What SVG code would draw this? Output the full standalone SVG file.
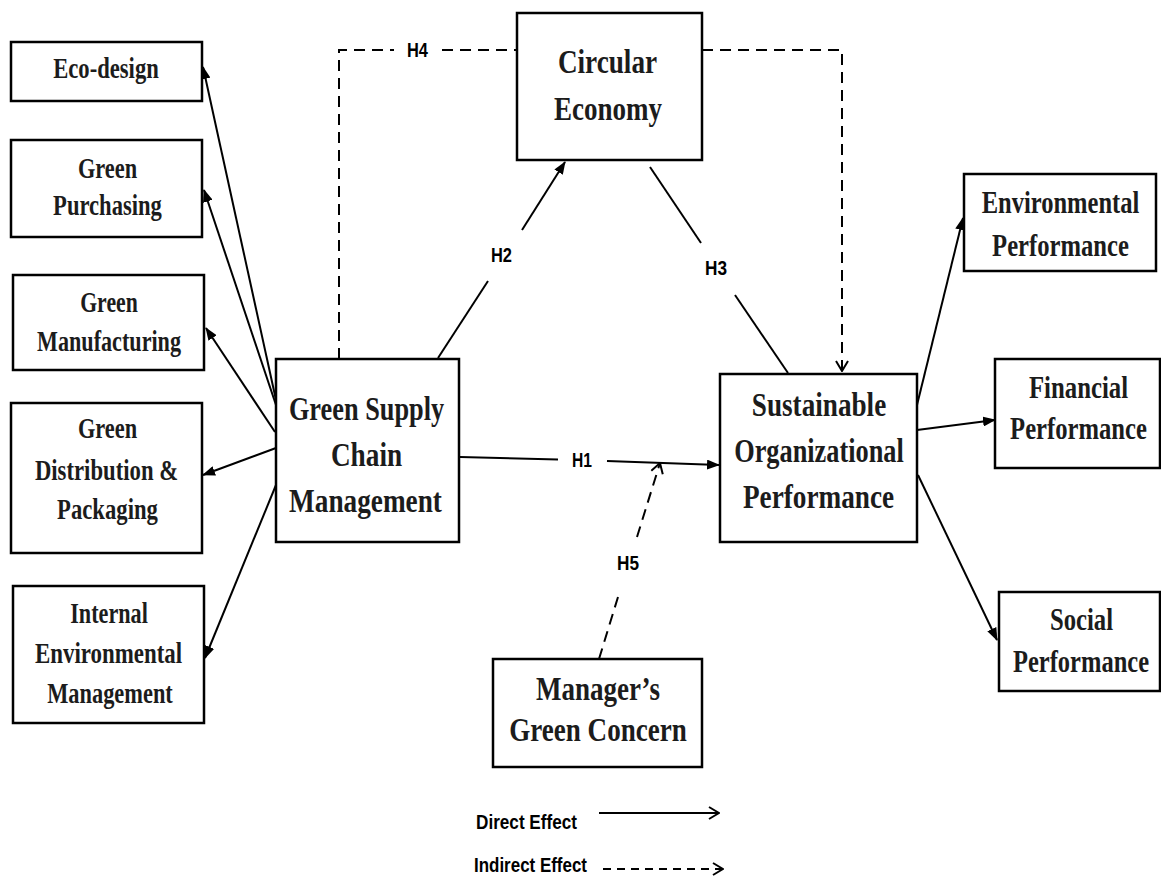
<svg xmlns="http://www.w3.org/2000/svg" width="1161" height="877" viewBox="0 0 1161 877">
<style>
.box{fill:#fff;stroke:#000;stroke-width:2.5}
.t{font-family:"Liberation Serif","Times New Roman",serif;font-weight:bold;fill:#1c1c1c;text-anchor:middle}
.s{font-size:30px}
.m{font-size:31px}
.b{font-size:34px}
.g{font-size:33px}
.lbl{font-family:"Liberation Sans",Arial,sans-serif;font-weight:bold;font-size:21px;fill:#000}
.c{fill:none;stroke:#000;stroke-width:2}
.d{fill:none;stroke:#000;stroke-width:2;stroke-dasharray:11,7}
.dl{fill:none;stroke:#000;stroke-width:2;stroke-dasharray:8,6}
</style>
<defs>
<marker id="ah" viewBox="0 0 13 10" refX="12" refY="5" markerWidth="13" markerHeight="10" markerUnits="userSpaceOnUse" orient="auto"><path d="M0,0 L13,5 L0,10 z" fill="#000"/></marker>
<marker id="oh" viewBox="0 0 12 14" refX="11" refY="7" markerWidth="12" markerHeight="14" markerUnits="userSpaceOnUse" orient="auto"><path d="M1,1 L11,7 L1,13" fill="none" stroke="#000" stroke-width="2" stroke-dasharray="none"/></marker>
</defs>
<rect width="1161" height="877" fill="#fff"/>

<g id="connectors">
<path class="d" d="M339,359 L339,50 L394,50"/>
<path class="d" d="M442,50 L517,50"/>
<path class="d" d="M702,50 L842,50 L842,371" marker-end="url(#oh)"/>
<path class="c" d="M438,358 L488,281"/>
<path class="c" d="M522,230 L565,162" marker-end="url(#ah)"/>
<path class="c" d="M650,167 L701,243"/>
<path class="c" d="M735,295 L788,373"/>
<path class="c" d="M460,457 L558,459.5"/>
<path class="c" d="M607,461 L719,465" marker-end="url(#ah)"/>
<path class="d" d="M599,659 L618,597"/>
<path class="d" d="M637,537 L660,463" marker-end="url(#oh)"/>
<path class="c" d="M276,400 L203,67" marker-end="url(#ah)"/>
<path class="c" d="M276,405 L204,190" marker-end="url(#ah)"/>
<path class="c" d="M275,432 L206,328" marker-end="url(#ah)"/>
<path class="c" d="M276,448 L203,475" marker-end="url(#ah)"/>
<path class="c" d="M276,485 L205,658" marker-end="url(#ah)"/>
<path class="c" d="M917,405 L963,218" marker-end="url(#ah)"/>
<path class="c" d="M917,430 L995,420" marker-end="url(#ah)"/>
<path class="c" d="M918,475 L997,640" marker-end="url(#ah)"/>
<text class="lbl" x="407" y="57" textLength="21" lengthAdjust="spacingAndGlyphs">H4</text>
<text class="lbl" x="491" y="262" textLength="21" lengthAdjust="spacingAndGlyphs">H2</text>
<text class="lbl" x="705" y="275" textLength="22" lengthAdjust="spacingAndGlyphs">H3</text>
<text class="lbl" x="572" y="467" textLength="20" lengthAdjust="spacingAndGlyphs">H1</text>
<text class="lbl" x="617" y="570" textLength="22" lengthAdjust="spacingAndGlyphs">H5</text>
</g>

<g id="eco-design">
<rect class="box" x="11" y="42" width="191" height="59"/>
<text class="t s" transform="translate(106,78) scale(0.8,1)" textLength="132" lengthAdjust="spacingAndGlyphs">Eco-design</text>
</g>
<g id="green-purchasing">
<rect class="box" x="11" y="140" width="191" height="97"/>
<text class="t s" transform="translate(107.5,178) scale(0.8,1)" textLength="74" lengthAdjust="spacingAndGlyphs">Green</text>
<text class="t s" transform="translate(107.5,215) scale(0.8,1)" textLength="136" lengthAdjust="spacingAndGlyphs">Purchasing</text>
</g>
<g id="green-manufacturing">
<rect class="box" x="13" y="275" width="191" height="95"/>
<text class="t s" transform="translate(109,312) scale(0.8,1)" textLength="72" lengthAdjust="spacingAndGlyphs">Green</text>
<text class="t s" transform="translate(109,351) scale(0.8,1)" textLength="180" lengthAdjust="spacingAndGlyphs">Manufacturing</text>
</g>
<g id="green-distribution">
<rect class="box" x="11" y="403" width="191" height="150"/>
<text class="t s" transform="translate(107.5,438) scale(0.8,1)" textLength="74" lengthAdjust="spacingAndGlyphs">Green</text>
<text class="t s" transform="translate(106.5,480) scale(0.8,1)" textLength="179" lengthAdjust="spacingAndGlyphs">Distribution &amp;</text>
<text class="t s" transform="translate(107.5,519) scale(0.8,1)" textLength="126" lengthAdjust="spacingAndGlyphs">Packaging</text>
</g>
<g id="internal-env-mgmt">
<rect class="box" x="13" y="586" width="191" height="137"/>
<text class="t s" transform="translate(109,623) scale(0.8,1)" textLength="97" lengthAdjust="spacingAndGlyphs">Internal</text>
<text class="t s" transform="translate(108.5,663) scale(0.8,1)" textLength="184" lengthAdjust="spacingAndGlyphs">Environmental</text>
<text class="t s" transform="translate(110,703) scale(0.8,1)" textLength="157" lengthAdjust="spacingAndGlyphs">Management</text>
</g>
<g id="gscm">
<rect class="box" x="276" y="359" width="183" height="183"/>
<text class="t b" transform="translate(366.5,420) scale(0.8,1)" textLength="194" lengthAdjust="spacingAndGlyphs">Green Supply</text>
<text class="t b" transform="translate(366.5,466) scale(0.8,1)" textLength="89" lengthAdjust="spacingAndGlyphs">Chain</text>
<text class="t b" transform="translate(365.5,512) scale(0.8,1)" textLength="191" lengthAdjust="spacingAndGlyphs">Management</text>
</g>
<g id="circular-economy">
<rect class="box" x="517" y="13" width="185" height="147"/>
<text class="t b" transform="translate(607.5,73) scale(0.8,1)" textLength="124" lengthAdjust="spacingAndGlyphs">Circular</text>
<text class="t b" transform="translate(608,120) scale(0.8,1)" textLength="135" lengthAdjust="spacingAndGlyphs">Economy</text>
</g>
<g id="sop">
<rect class="box" x="720" y="374" width="197" height="168"/>
<text class="t b" transform="translate(819,416) scale(0.8,1)" textLength="168" lengthAdjust="spacingAndGlyphs">Sustainable</text>
<text class="t b" transform="translate(819,462) scale(0.8,1)" textLength="212" lengthAdjust="spacingAndGlyphs">Organizational</text>
<text class="t b" transform="translate(818.5,508) scale(0.8,1)" textLength="189" lengthAdjust="spacingAndGlyphs">Performance</text>
</g>
<g id="environmental-performance">
<rect class="box" x="964" y="174" width="192" height="97"/>
<text class="t m" transform="translate(1060.5,213) scale(0.8,1)" textLength="197" lengthAdjust="spacingAndGlyphs">Environmental</text>
<text class="t m" transform="translate(1060.5,256) scale(0.8,1)" textLength="171" lengthAdjust="spacingAndGlyphs">Performance</text>
</g>
<g id="financial-performance">
<rect class="box" x="995" y="359" width="165" height="109"/>
<text class="t m" transform="translate(1078.5,398) scale(0.8,1)" textLength="124" lengthAdjust="spacingAndGlyphs">Financial</text>
<text class="t m" transform="translate(1078.5,439) scale(0.8,1)" textLength="171" lengthAdjust="spacingAndGlyphs">Performance</text>
</g>
<g id="social-performance">
<rect class="box" x="999" y="592" width="161" height="99"/>
<text class="t m" transform="translate(1081.5,630) scale(0.8,1)" textLength="79" lengthAdjust="spacingAndGlyphs">Social</text>
<text class="t m" transform="translate(1081,672) scale(0.8,1)" textLength="170" lengthAdjust="spacingAndGlyphs">Performance</text>
</g>
<g id="managers-green-concern">
<rect class="box" x="493" y="659" width="209" height="108"/>
<text class="t g" transform="translate(598,700) scale(0.8,1)" textLength="155" lengthAdjust="spacingAndGlyphs">Manager’s</text>
<text class="t g" transform="translate(598,741) scale(0.8,1)" textLength="222" lengthAdjust="spacingAndGlyphs">Green Concern</text>
</g>
<g id="legend">
<text class="lbl" x="476" y="829" textLength="101" lengthAdjust="spacingAndGlyphs">Direct Effect</text>
<path class="c" d="M599,813 L719,813" marker-end="url(#oh)"/>
<text class="lbl" x="474" y="872" textLength="113" lengthAdjust="spacingAndGlyphs">Indirect Effect</text>
<path class="dl" d="M603,869 L723,869" marker-end="url(#oh)"/>
</g>
</svg>
